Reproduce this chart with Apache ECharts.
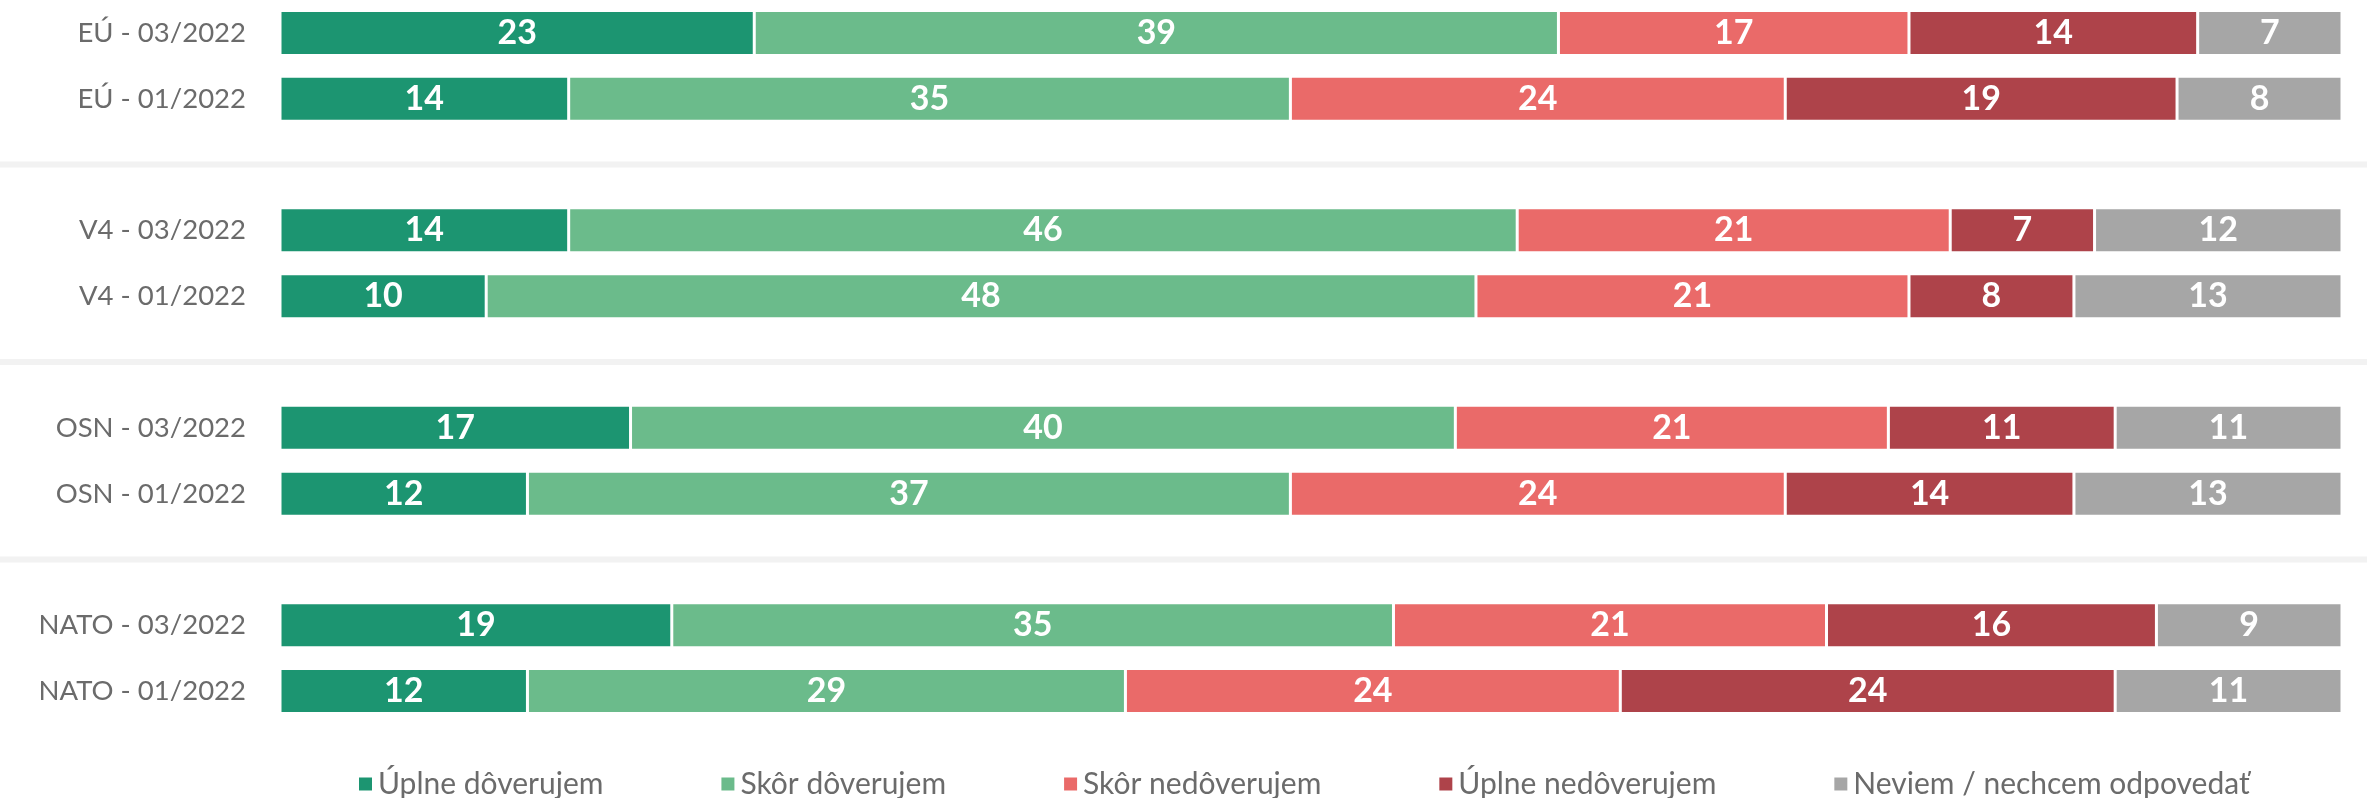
<!DOCTYPE html>
<html>
<head>
<meta charset="utf-8">
<script src="https://cdn.jsdelivr.net/npm/echarts@6/dist/echarts.min.js"></script>
<style>
    html, body { margin: 0; padding: 0; background: #fff; }
    #chart { width: 2367px; height: 798px; }
</style>
</head>
<body>
<div id="chart"></div>
<script>
const rows = ['EÚ - 03/2022', 'EÚ - 01/2022', 'V4 - 03/2022', 'V4 - 01/2022', 'OSN - 03/2022', 'OSN - 01/2022', 'NATO - 03/2022', 'NATO - 01/2022']
const seriesNames = ['Úplne dôverujem', 'Skôr dôverujem', 'Skôr nedôverujem', 'Úplne nedôverujem', 'Neviem / nechcem odpovedať']
const uplneDoverujem = [23, 14, 14, 10, 17, 12, 19, 12]
const skorDoverujem = [39, 35, 46, 48, 40, 37, 35, 29]
const skorNedoverujem = [17, 24, 21, 21, 21, 24, 21, 24]
const uplneNedoverujem = [14, 19, 7, 8, 11, 14, 16, 24]
const neviem = [7, 8, 12, 13, 11, 13, 9, 11]
const colors = ['#1c9571', '#6bbb8b', '#ea6a69', '#ae434a', '#a6a6a6']

// groups of two rows, with an empty slot between groups for the separator line
function withGaps(arr, gapValue) {
    const out = []
    arr.forEach((v, i) => {
        out.push(v)
        if (i % 2 == 1 && i < arr.length - 1) out.push(gapValue)
    })
    return out
}

let gapCount = 0
const categories = withGaps(rows, null).map(c => c === null ? ' '.repeat(++gapCount) : c)
const separators = categories.map(c => c.trim() === '' ? 1 : null)

const font = 'Lato'
const values = [uplneDoverujem, skorDoverujem, skorNedoverujem, uplneNedoverujem, neviem]

const chart = echarts.init(document.getElementById('chart'))
chart.setOption({
    animation: false,
    textStyle: { fontFamily: font },
    grid: [
        { left: 280, right: 25, top: -5, height: 729 },
        { left: 0, right: 0, top: -5, height: 729 },
    ],
    legend: {
        data: seriesNames,
        left: 352,
        top: 764,
        icon: 'rect',
        itemWidth: 15,
        itemHeight: 15,
        itemGap: 116,
        textStyle: { fontSize: 30, color: '#6b6b6b', fontFamily: font },
    },
    xAxis: [
        { type: 'value', min: 0, max: 100, show: false, gridIndex: 0 },
        { type: 'value', min: 0, max: 1, show: false, gridIndex: 1 },
    ],
    yAxis: [
        {
            type: 'category',
            data: categories,
            inverse: true,
            gridIndex: 0,
            axisLine: { show: false },
            axisTick: { show: false },
            axisLabel: { fontSize: 27.5, color: '#6b6b6b', margin: 34, fontFamily: font },
        },
        {
            type: 'category',
            data: categories,
            inverse: true,
            gridIndex: 1,
            show: false,
        },
    ],
    series: [
        {
            type: 'bar',
            xAxisIndex: 1,
            yAxisIndex: 1,
            barWidth: 6,
            silent: true,
            z: 1,
            itemStyle: { color: '#f2f2f2' },
            data: separators,
        },
        ...seriesNames.map((name, i) => ({
            name: name,
            type: 'bar',
            stack: 'total',
            barWidth: 45,
            z: 2,
            itemStyle: { color: colors[i], borderColor: '#fff', borderWidth: 1.5 },
            label: {
                show: true,
                position: 'inside',
                color: '#fff',
                fontWeight: 'bold',
                fontSize: 34,
                fontFamily: font,
            },
            data: withGaps(values[i], null),
        })),
    ],
})
</script>
</body>
</html>
